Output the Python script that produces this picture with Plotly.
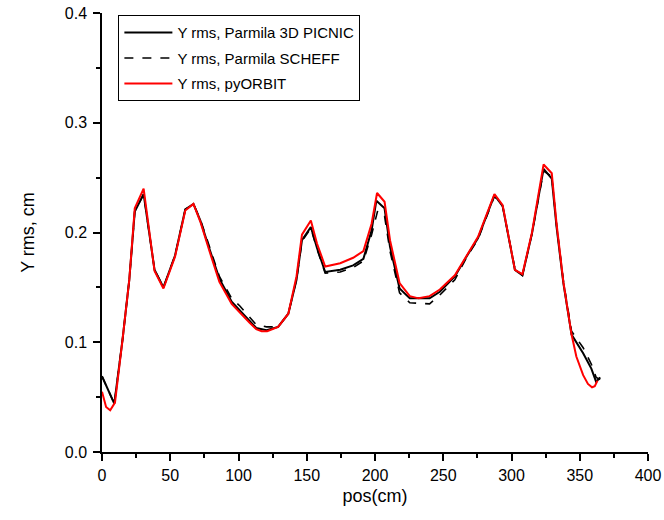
import plotly.graph_objects as go

# Y rms along the line, three codes
pos_picnic = [0, 9, 15, 20, 24, 30.5, 38.5, 45, 53.5, 61, 67, 72, 79, 86, 95, 101,
              113, 120.5, 129, 136.5, 142.5, 146.5, 153, 157.5, 163.5, 174.5, 184,
              191.5, 197.5, 201, 207, 211, 218, 225.5, 240, 247.5, 258.5, 267, 275.5,
              287.5, 293.5, 302.5, 308, 315, 323.5, 329.5, 333, 338, 344, 352.5,
              358.5, 362, 365]
yrms_picnic = [0.069, 0.044, 0.102, 0.157, 0.219, 0.235, 0.166, 0.150, 0.179, 0.221,
               0.226, 0.211, 0.184, 0.158, 0.137, 0.129, 0.113, 0.111, 0.114, 0.126,
               0.157, 0.193, 0.205, 0.186, 0.164, 0.166, 0.170, 0.176, 0.202, 0.229,
               0.222, 0.187, 0.149, 0.140, 0.140, 0.146, 0.160, 0.178, 0.195, 0.234,
               0.224, 0.166, 0.161, 0.199, 0.258, 0.249, 0.205, 0.154, 0.107, 0.090,
               0.076, 0.064, 0.068]

pos_scheff = [0, 9, 15, 20, 24, 30.5, 38.5, 45, 53.5, 61, 67, 72, 79, 86, 95, 101,
              113, 120.5, 129, 136.5, 142.5, 146.5, 153, 157.5, 163.5, 174.5, 184,
              191.5, 197.5, 202, 207, 211, 218, 225.5, 240, 247.5, 258.5, 267, 275.5,
              287.5, 293.5, 302.5, 308, 315, 323.5, 329.5, 333, 338, 344, 352.5,
              358.5, 362, 365]
yrms_scheff = [0.069, 0.044, 0.102, 0.157, 0.219, 0.235, 0.166, 0.150, 0.179, 0.221,
               0.226, 0.212, 0.186, 0.160, 0.140, 0.133, 0.116, 0.114, 0.114, 0.126,
               0.157, 0.192, 0.204, 0.185, 0.163, 0.164, 0.168, 0.174, 0.198, 0.220,
               0.215, 0.183, 0.145, 0.136, 0.135, 0.143, 0.157, 0.177, 0.194, 0.233,
               0.224, 0.167, 0.161, 0.199, 0.256, 0.251, 0.207, 0.156, 0.110, 0.095,
               0.080, 0.068, 0.066]

pos_orbit = [0, 3, 6, 9.5, 15, 20, 24, 30.5, 38.5, 45, 53.5, 61, 67, 72, 79, 86, 95,
             101, 108, 113, 117, 121, 125, 129, 136.5, 142.5, 146.5, 153, 157.5, 163.5,
             174.5, 184, 191.5, 197.5, 201.5, 207, 211, 218, 225.5, 232, 240, 247.5,
             258.5, 267, 275.5, 287.5, 293.5, 302.5, 308, 315, 323.5, 329.5, 333, 338,
             344, 347.5, 352.5, 356, 359, 361, 363]
yrms_orbit = [0.055, 0.041, 0.038, 0.045, 0.102, 0.157, 0.222, 0.240, 0.165, 0.149,
              0.178, 0.220, 0.226, 0.210, 0.182, 0.155, 0.135, 0.127, 0.118, 0.112,
              0.110, 0.110, 0.112, 0.114, 0.126, 0.160, 0.198, 0.211, 0.190, 0.169,
              0.172, 0.177, 0.183, 0.208, 0.236, 0.228, 0.193, 0.154, 0.142, 0.140,
              0.142, 0.148, 0.161, 0.179, 0.196, 0.235, 0.225, 0.166, 0.162, 0.200,
              0.262, 0.254, 0.208, 0.155, 0.107, 0.087, 0.070, 0.062, 0.059, 0.060,
              0.065]

fig = go.Figure()
fig.add_trace(go.Scatter(x=pos_picnic, y=yrms_picnic, mode="lines",
                         name="Y rms, Parmila 3D PICNIC", legendgroup="a",
                         line=dict(color="black", width=2)))
fig.add_trace(go.Scatter(x=pos_scheff, y=yrms_scheff, mode="lines",
                         name="Y rms, Parmila SCHEFF", legendgroup="b",
                         line=dict(color="black", width=1.6, dash="dash")))
fig.add_trace(go.Scatter(x=pos_orbit, y=yrms_orbit, mode="lines",
                         name="Y rms, pyORBIT", legendgroup="c",
                         line=dict(color="#ff0000", width=2)))

axis_common = dict(
    showline=True, linecolor="black", linewidth=1.5,
    showgrid=False, zeroline=False, mirror=False, automargin=False,
    ticks="outside", ticklen=7, tickwidth=1.5, tickcolor="black",
    tickfont=dict(size=16, color="black"),
)
fig.update_layout(
    width=664, height=520,
    margin=dict(l=102, r=16, t=13, b=68),
    plot_bgcolor="#FFF",
    paper_bgcolor="#FFF",
    font=dict(family="Arial, Liberation Sans, sans-serif", color="black"),
    xaxis=dict(
        range=[0, 400], dtick=50, tick0=0,
        minor=dict(dtick=25, ticks="outside", ticklen=4, tickwidth=1.5,
                   tickcolor="black", showgrid=False),
        ticklabelstandoff=1,
        title=dict(text="pos(cm)", font=dict(size=18), standoff=6),
        **axis_common
    ),
    yaxis=dict(
        range=[0, 0.4], dtick=0.1, tick0=0, tickformat=".1f",
        minor=dict(dtick=0.05, ticks="outside", ticklen=4, tickwidth=1.5,
                   tickcolor="black", showgrid=False),
        ticklabelstandoff=3,
        title=dict(text="Y rms, cm", font=dict(size=18), standoff=25),
        **axis_common
    ),
    legend=dict(
        x=0.03, y=0.995, xanchor="left", yanchor="top",
        bordercolor="black", borderwidth=1, bgcolor="white",
        font=dict(size=15, color="black"),
        itemwidth=48, tracegroupgap=3,
    ),
)

# drop the default 8px body margin so the figure fills the window
fig.write_html("out.html", config={"displayModeBar": False},
               post_script="document.body.style.margin = '0';")
